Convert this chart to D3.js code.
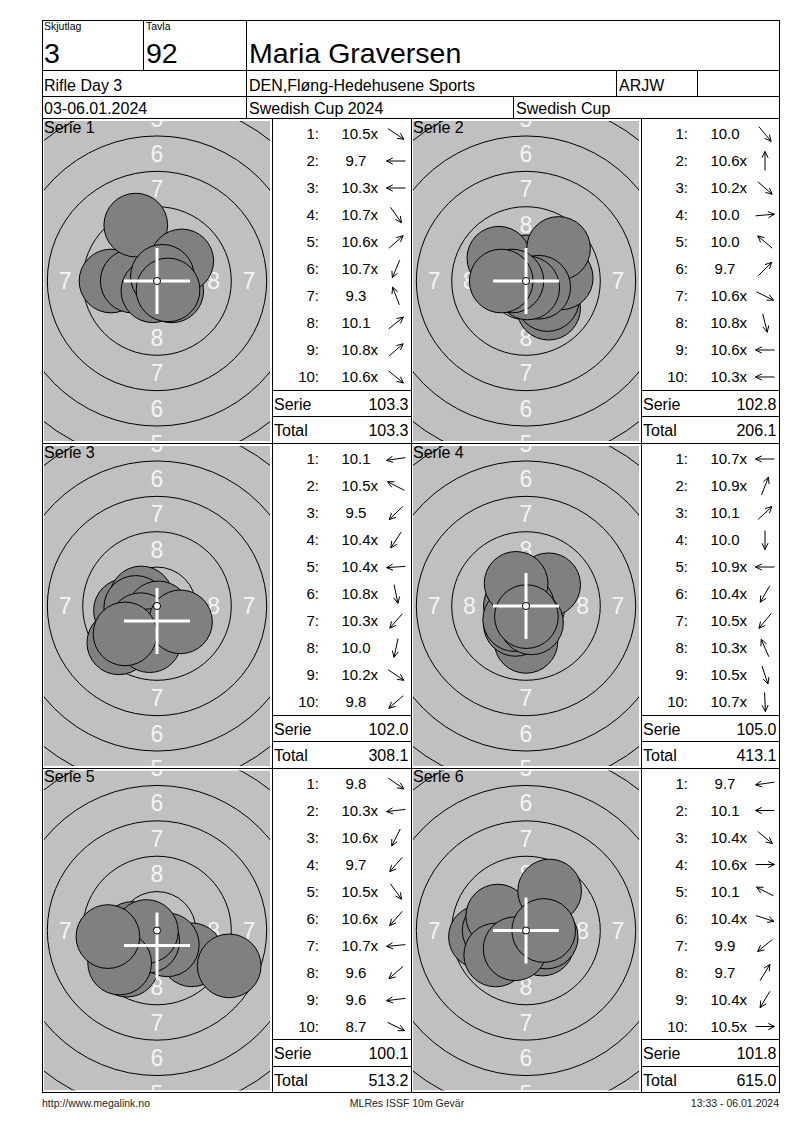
<!DOCTYPE html>
<html><head><meta charset="utf-8">
<script src="https://cdn.jsdelivr.net/npm/d3@7"></script>
<style>
body{margin:0;background:#fff}
svg{display:block}
text{font-family:"Liberation Sans",Arial,sans-serif;fill:#000}
</style>
</head><body>
<svg id="c" width="800" height="1130"></svg>
<script>
// ---------------- DATA ----------------
const headerLabels = ["Skjutlag", "Tavla"];
const headerValues = ["3", "92"];
const shooterName = "Maria Graversen";
const row2Texts = ["Rifle Day 3", "DEN,Fløng-Hedehusene Sports", "ARJW", ""];
const row3Texts = ["03-06.01.2024", "Swedish Cup 2024", "Swedish Cup"];
const footerTexts = ["http://www.megalink.no", "MLRes ISSF 10m Gevär", "13:33 - 06.01.2024"];

const seriesNames = ["Serie 1", "Serie 2", "Serie 3", "Serie 4", "Serie 5", "Serie 6"];
const scores = [
  ["10.5x","9.7","10.3x","10.7x","10.6x","10.7x","9.3","10.1","10.8x","10.6x"],
  ["10.0","10.6x","10.2x","10.0","10.0","9.7","10.6x","10.8x","10.6x","10.3x"],
  ["10.1","10.5x","9.5","10.4x","10.4x","10.8x","10.3x","10.0","10.2x","9.8"],
  ["10.7x","10.9x","10.1","10.0","10.9x","10.4x","10.5x","10.3x","10.5x","10.7x"],
  ["9.8","10.3x","10.6x","9.7","10.5x","10.6x","10.7x","9.6","9.6","8.7"],
  ["9.7","10.1","10.4x","10.6x","10.1","10.4x","9.9","9.7","10.4x","10.5x"]
];
// shot centres in mm from target centre (x right, y up)
const shotX = [
  [1.04,-3.25,-1.75,0.43,0.75,-0.29,-1.5,1.75,0.38,0.78],
  [1.6,0,1.51,2.49,-1.92,2.3,0.9,0.12,-1.0,-1.75],
  [-2.23,-1.11,-2.7,-0.82,-1.5,0.1,-1.15,-0.52,1.66,-2.26],
  [-0.75,0.09,1.6,0,-0.25,-0.75,-0.8,-0.7,0.39,0.03],
  [2.46,-1.74,-0.45,-2.13,0.73,-0.66,-0.75,-2.64,-3.47,5.1],
  [-3.22,-2.25,1.15,1.0,-2.0,1.43,-2.14,1.67,-0.77,1.25]
];
const shotY = [
  [-0.70,0,0,-0.61,0.66,-0.69,3.95,1.42,0.33,-0.63],
  [-1.92,1.0,-1.31,0.22,1.61,2.3,-0.44,-0.49,0,0],
  [-0.31,0.57,-2.6,-1.26,-0.1,-0.49,-1.32,-2.45,-1.12,-1.97],
  [0,0.23,1.5,-2.5,0,-1.3,-0.96,1.6,-1.19,-0.75],
  [-1.72,-0.21,-0.89,-2.45,-1.01,-0.75,-0.07,-2.3,-0.43,-2.5],
  [-0.45,0,-0.96,0,1.02,-0.46,-1.73,2.79,-1.29,0]
];
const crossX = [0,0,0,0,0,0];
const crossY = [0,0,-1.06,0,-1.06,0];
const serieSums = ["103.3","102.8","102.0","105.0","100.1","101.8"];
const runningTotals = ["103.3","206.1","308.1","413.1","513.2","615.0"];
const ringValues = [1,2,3,4,5,6,7,8,9];
const ringLabelValues = [8,7,6,5];
const pelletDiameterMM = 4.5;
const ring10RadiusMM = 0.25;
const ringWidthMM = 2.5;

// ---------------- LAYOUT ----------------
const svg = d3.select("#c");
const L = 42, R = 779;
const hTop = 20, h1 = 70.5, h2 = 96.5, bodyTop = 118.5;
const rowTops = [118.5, 443.5, 768];
const rowH = 324.5;
const targetX = [42, 411];
const listX = [272, 641];
const listW = [139, 138];
const pxPerMM = 14.15;

function line(x1,y1,x2,y2){
  svg.append("line").attr("x1",x1).attr("y1",y1).attr("x2",x2).attr("y2",y2)
    .attr("stroke","#000").attr("stroke-width",1).attr("shape-rendering","crispEdges");
}
function txt(x,y,s,size,anchor){
  return svg.append("text").attr("x",x).attr("y",y).attr("font-size",size)
    .attr("text-anchor",anchor||"start").text(s);
}

// ---- header ----
line(L,hTop,R,hTop); line(L,h1,R,h1); line(L,h2,R,h2);
line(L,hTop,L,bodyTop); line(R,hTop,R,bodyTop);
line(143.5,hTop,143.5,h1); line(246.5,hTop,246.5,bodyTop);
line(616.5,h1,616.5,h2); line(697.5,h1,697.5,h2);
line(513.5,h2,513.5,bodyTop);

txt(44,30,headerLabels[0],10.5); txt(146,30,headerLabels[1],10.5);
txt(44,63,headerValues[0],28.5); txt(146,63,headerValues[1],28.5);
txt(249,63,shooterName,28.5);
[44,249,619,700].forEach((x,i)=>{ if (row2Texts[i]) txt(x,90.5,row2Texts[i],16); });
[44,249,516].forEach((x,i)=>txt(x,113.5,row3Texts[i],16));

// ---- body grid ----
rowTops.concat([rowTops[2]+rowH]).forEach(y=>line(L,y,R,y));
[L,272,411,641,R].forEach(x=>line(x,bodyTop,x,rowTops[2]+rowH));

const defs = svg.append("defs");

seriesNames.forEach((name, s) => {
  const row = Math.floor(s/2), col = s%2;
  const top = rowTops[row];
  const gx = targetX[col] + 2, gy = top + 2.5, gw = 226, gh = 320;
  const cx = targetX[col] + 115, cy = top + 162.5;

  const xs = d3.scaleLinear().domain([-1,1]).range([cx - pxPerMM, cx + pxPerMM]);
  const ys = d3.scaleLinear().domain([-1,1]).range([cy + pxPerMM, cy - pxPerMM]);
  const rs = d3.scaleLinear().domain([0,1]).range([0,pxPerMM]);

  defs.append("clipPath").attr("id","clip"+s).append("rect")
    .attr("x",gx).attr("y",gy).attr("width",gw).attr("height",gh);
  const g = svg.append("g").attr("clip-path","url(#clip"+s+")");
  g.append("rect").attr("x",gx).attr("y",gy).attr("width",gw).attr("height",gh).attr("fill","#c0c0c0");

  // rings
  g.selectAll("circle.ring").data(ringValues).join("circle")
    .attr("class","ring").attr("cx",xs(0)).attr("cy",ys(0))
    .attr("r",n=>rs(ring10RadiusMM + (10-n)*ringWidthMM))
    .attr("fill","none").attr("stroke","#000").attr("stroke-width",1);

  // ring labels (only those whose centre falls inside the panel, or partly on the vertical axis)
  const labelPos = [];
  ringLabelValues.forEach(n=>{
    const d = ring10RadiusMM + (9.5-n)*ringWidthMM;
    [[0,d],[0,-d],[-d,0],[d,0]].forEach(p=>{
      const px = xs(p[0]), py = ys(p[1]);
      if (px > gx + 5 && px < gx + gw - 5 && py > gy - 8 && py < gy + gh + 8)
        labelPos.push({n, x:p[0], y:p[1]});
    });
  });
  g.selectAll("text.rl").data(labelPos).join("text")
    .attr("class","rl").attr("x",d=>xs(d.x)).attr("y",d=>ys(d.y)).attr("dy","0.36em")
    .attr("text-anchor","middle").attr("font-size",23).style("fill","#f4f4f4")
    .text(d=>d.n);

  // shots
  const shots = shotX[s].map((x,i)=>({x, y:shotY[s][i]}));
  g.selectAll("circle.shot").data(shots).join("circle")
    .attr("class","shot").attr("cx",d=>xs(d.x)).attr("cy",d=>ys(d.y))
    .attr("r",rs(pelletDiameterMM/2))
    .attr("fill","#808080").attr("stroke","#000").attr("stroke-width",1);

  // cross
  const ccx = xs(crossX[s]), ccy = ys(crossY[s]), arm = 33;
  g.append("line").attr("x1",ccx-arm).attr("x2",ccx+arm).attr("y1",ccy).attr("y2",ccy)
    .attr("stroke","#fff").attr("stroke-width",3);
  g.append("line").attr("x1",ccx).attr("x2",ccx).attr("y1",ccy-arm).attr("y2",ccy+arm)
    .attr("stroke","#fff").attr("stroke-width",3);
  // ring 10 dot
  g.append("circle").attr("cx",xs(0)).attr("cy",ys(0)).attr("r",rs(ring10RadiusMM))
    .attr("fill","#fff").attr("stroke","#000").attr("stroke-width",1);

  // series label
  svg.append("text").attr("x",gx).attr("y",gy+11.5).attr("font-size",16).text(name);

  // ---- list ----
  const lx = listX[col], lw = listW[col];
  scores[s].forEach((sc,i)=>{
    const by = top + 20.5 + 27*i;
    txt(lx+47, by, (i+1)+":", 15, "end");
    const num = sc.replace("x","");
    const t = txt(lx+84, by, num, 15, "start");
    const w = t.node().getComputedTextLength();
    t.attr("x", lx+84 - w/2);
    if (sc.endsWith("x")) t.append("tspan").text("x");
    // direction arrow
    const th = Math.atan2(-shots[i].y, shots[i].x);
    const acx = lx+124, acy = by-5, half = 9.5, wing = 7, wa = 26*Math.PI/180;
    const hx = acx + half*Math.cos(th), hy = acy + half*Math.sin(th);
    const tx = acx - half*Math.cos(th), ty = acy - half*Math.sin(th);
    const p = `M${tx},${ty}L${hx},${hy}M${hx - wing*Math.cos(th-wa)},${hy - wing*Math.sin(th-wa)}L${hx},${hy}L${hx - wing*Math.cos(th+wa)},${hy - wing*Math.sin(th+wa)}`;
    svg.append("path").attr("d",p).attr("fill","none").attr("stroke","#000").attr("stroke-width",1);
  });
  line(lx, top+271.5, lx+lw, top+271.5);
  line(lx, top+298, lx+lw, top+298);
  txt(lx+2, top+291, "Serie", 16);
  txt(lx+lw-2.5, top+291, serieSums[s], 16, "end");
  txt(lx+2, top+317.5, "Total", 16);
  txt(lx+lw-2.5, top+317.5, runningTotals[s], 16, "end");
});

// ---- footer ----
const fy = 1106.5;
svg.append("text").attr("x",42).attr("y",fy).attr("font-size",10.5).style("fill","#222").text(footerTexts[0]);
svg.append("text").attr("x",407).attr("y",fy).attr("font-size",10.5).attr("text-anchor","middle").style("fill","#222").text(footerTexts[1]);
svg.append("text").attr("x",779).attr("y",fy).attr("font-size",10.5).attr("text-anchor","end").style("fill","#222").text(footerTexts[2]);
</script>
</body></html>
